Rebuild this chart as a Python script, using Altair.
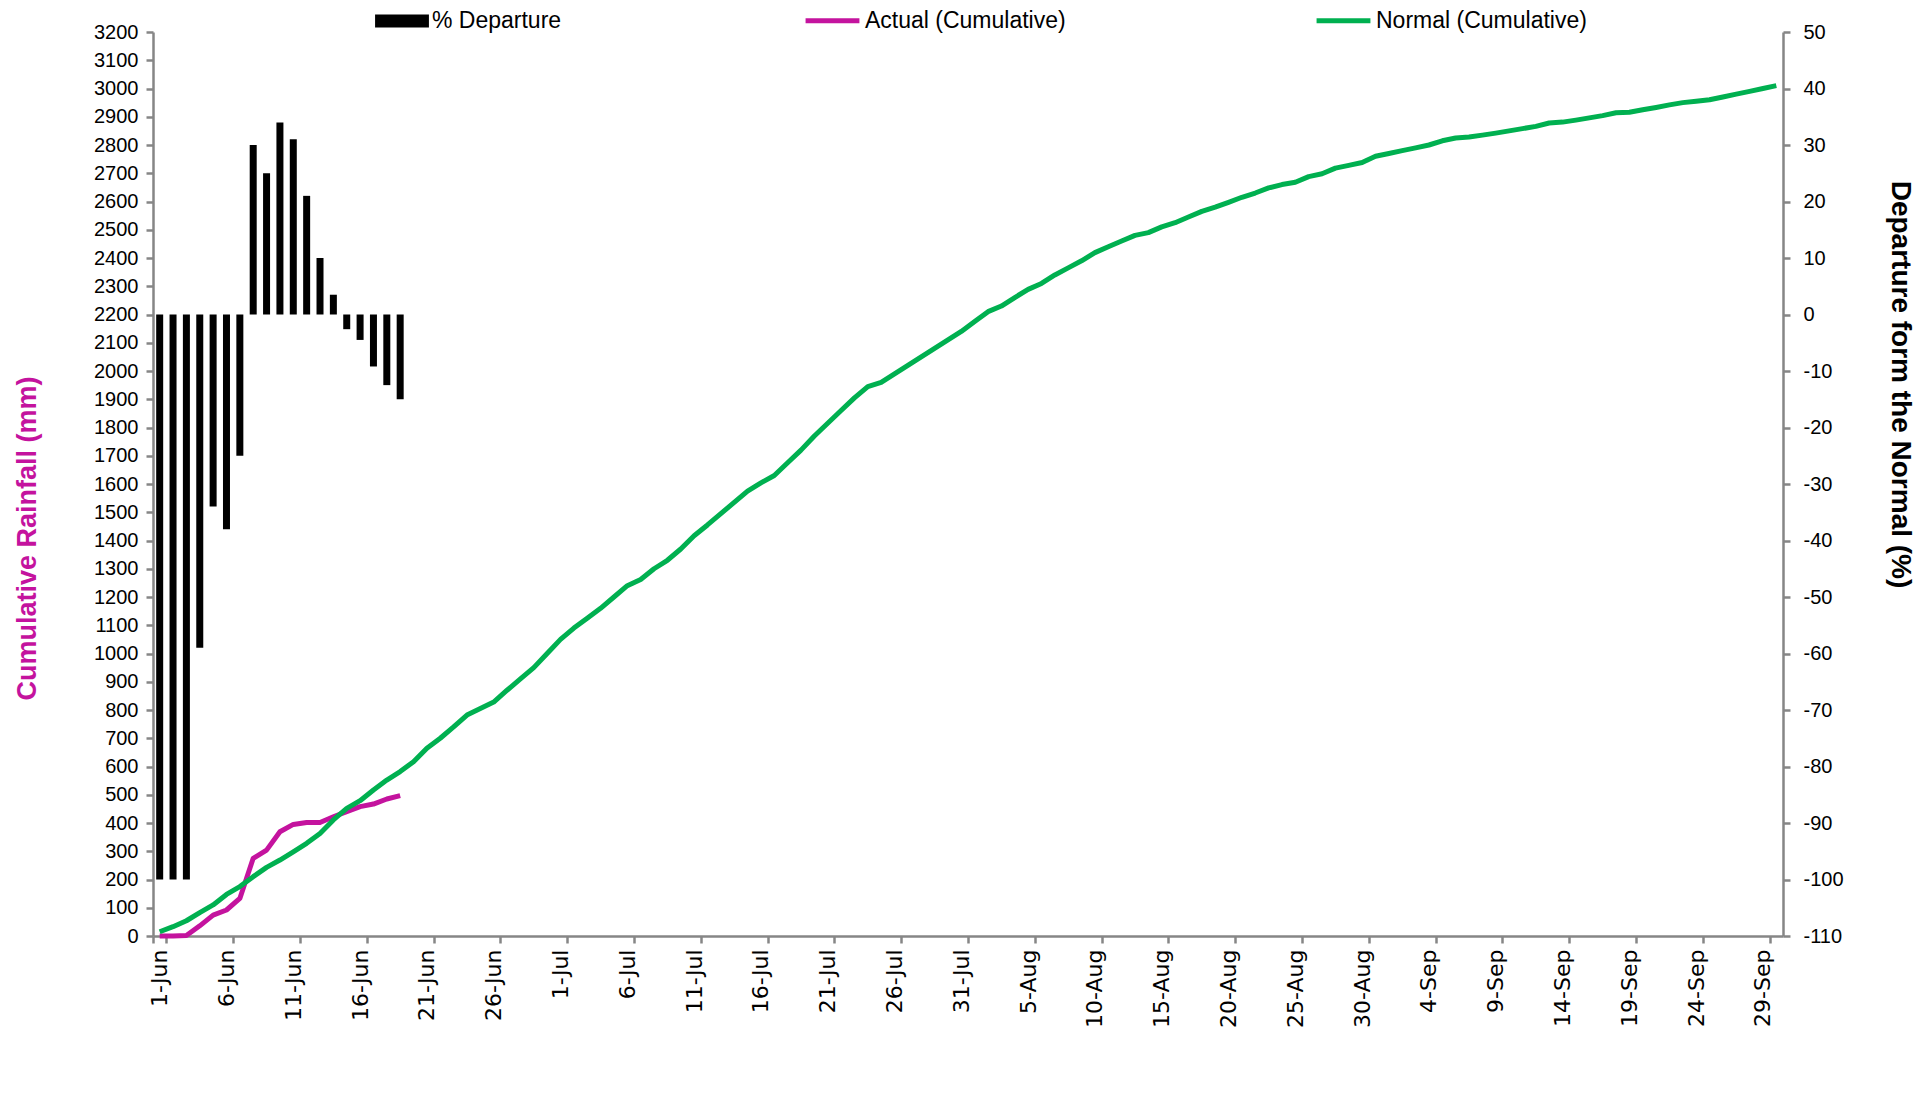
import altair as alt
import pandas as pd

# ---- categories -------------------------------------------------------------
dates = [f"{d.day}-{d.strftime('%b')}" for d in pd.date_range("2014-06-01", "2014-09-30")]
tick_dates = dates[::5]

# ---- series values ----------------------------------------------------------
departure = [-100, -100, -100, -59, -34, -38, -25, 30, 25, 34, 31, 21, 10, 3.5,
             -2.6, -4.5, -9.2, -12.5, -15]

actual = [0, 0, 2, 36, 74, 92, 133, 275, 304, 369, 395, 402, 402, 422, 440, 458,
          467, 485, 497]

normal = [15, 33, 54, 83, 110, 147, 175, 210, 243, 269, 298, 328, 363, 411, 452,
          479, 517, 552, 582, 617, 665, 700, 740, 782, 805, 828, 870, 910, 950,
          1000, 1050, 1090, 1125, 1160, 1200, 1240, 1262, 1300, 1330, 1370, 1417,
          1455, 1495, 1535, 1575, 1604, 1630, 1675, 1720, 1770, 1815, 1860, 1905,
          1945, 1960, 1990, 2020, 2050, 2080, 2110, 2140, 2175, 2210, 2230, 2260,
          2289, 2310, 2340, 2365, 2390, 2419, 2440, 2460, 2480, 2490, 2510, 2525,
          2545, 2565, 2580, 2597, 2615, 2630, 2648, 2660, 2668, 2688, 2698, 2718,
          2728, 2738, 2760, 2770, 2780, 2790, 2800, 2815, 2825, 2828, 2835, 2842,
          2850, 2858, 2866, 2878, 2881, 2888, 2896, 2904, 2914, 2916, 2925, 2933,
          2942, 2950, 2955, 2960, 2970, 2980, 2990, 3000, 3010]

series_names = ["Actual (Cumulative)", "Normal (Cumulative)"]
series_colors = ["#C4139E", "#00B050"]
MAGENTA = "#C4139E"
FONT = "Liberation Sans"

bar_df = pd.DataFrame({"date": dates[:len(departure)], "value": departure,
                       "series": "% Departure"})
line_df = pd.concat([
    pd.DataFrame({"date": dates[:len(actual)], "value": actual, "series": series_names[0]}),
    pd.DataFrame({"date": dates, "value": normal, "series": series_names[1]}),
])

x_enc = alt.X(
    "date:N",
    sort=dates,
    scale=alt.Scale(domain=dates, paddingInner=0, paddingOuter=0),
    axis=alt.Axis(
        values=tick_dates, labelAngle=270, tickBand="extent",
        labelFont="DejaVu Sans", labelFontSize=22, labelPadding=6,
        title=None,
    ),
)

bars = alt.Chart(bar_df).mark_bar(size=7).encode(
    x=x_enc,
    y=alt.Y(
        "value:Q",
        scale=alt.Scale(domain=[-110, 50], nice=False),
        axis=alt.Axis(
            orient="right", values=list(range(-110, 51, 10)),
            labelExpr="toString(datum.value)",
            title="Departure form the Normal (%)",
            titleAngle=90, titleX=116, titleY=352, titleAlign="center",
            titleBaseline="middle", titleFontSize=28, titleFont=FONT,
            titleFontWeight="bold", titleColor="#000000",
            labelPadding=13,
        ),
    ),
    fill=alt.Fill(
        "series:N",
        scale=alt.Scale(domain=["% Departure"], range=["#000000"]),
        legend=alt.Legend(
            orient="none", legendX=222, legendY=-38, direction="horizontal",
            title=None, symbolType="M-1,-0.24H1V0.24H-1Z", symbolSize=2900,
            symbolStrokeWidth=0, labelFontSize=23, labelFont=FONT,
            labelOffset=3, padding=0, labelLimit=400,
        ),
    ),
)

lines = alt.Chart(line_df).mark_line(strokeWidth=5, strokeJoin="round").encode(
    x=x_enc,
    y=alt.Y(
        "value:Q",
        scale=alt.Scale(domain=[0, 3200], nice=False),
        axis=alt.Axis(
            orient="left", values=list(range(0, 3201, 100)),
            labelExpr="toString(datum.value)",
            title="Cumulative Rainfall (mm)",
            titleAngle=270, titleX=-126, titleY=506, titleAlign="center",
            titleBaseline="middle", titleFontSize=27, titleFont=FONT,
            titleFontWeight="bold", titleColor=MAGENTA,
            labelPadding=8,
        ),
    ),
    stroke=alt.Stroke(
        "series:N",
        scale=alt.Scale(domain=series_names, range=series_colors),
        legend=alt.Legend(
            orient="none", legendX=650, legendY=-41, direction="horizontal",
            title=None, symbolType="stroke", symbolSize=2900,
            symbolStrokeWidth=5, labelFontSize=23, labelFont=FONT,
            labelOffset=3, columnPadding=240, padding=0, labelLimit=400,
        ),
    ),
    detail="series:N",
)

chart = alt.layer(bars, lines).resolve_scale(y="independent").properties(
    width=1630,
    height=904,
    autosize=alt.AutoSizeParams(type="none"),
    padding={"left": 145, "top": 24, "right": 140, "bottom": 160},
    background="#ffffff",
).configure_view(
    stroke="transparent"
).configure_axis(
    grid=False,
    domainColor="#868686", domainWidth=2.5,
    tickColor="#868686", tickWidth=2.5, tickSize=7,
    labelColor="#000000", labelFont=FONT, labelFontSize=20,
).configure_legend(
    labelColor="#000000",
)

chart.save("out.html", embed_options={"renderer": "svg", "actions": False})
